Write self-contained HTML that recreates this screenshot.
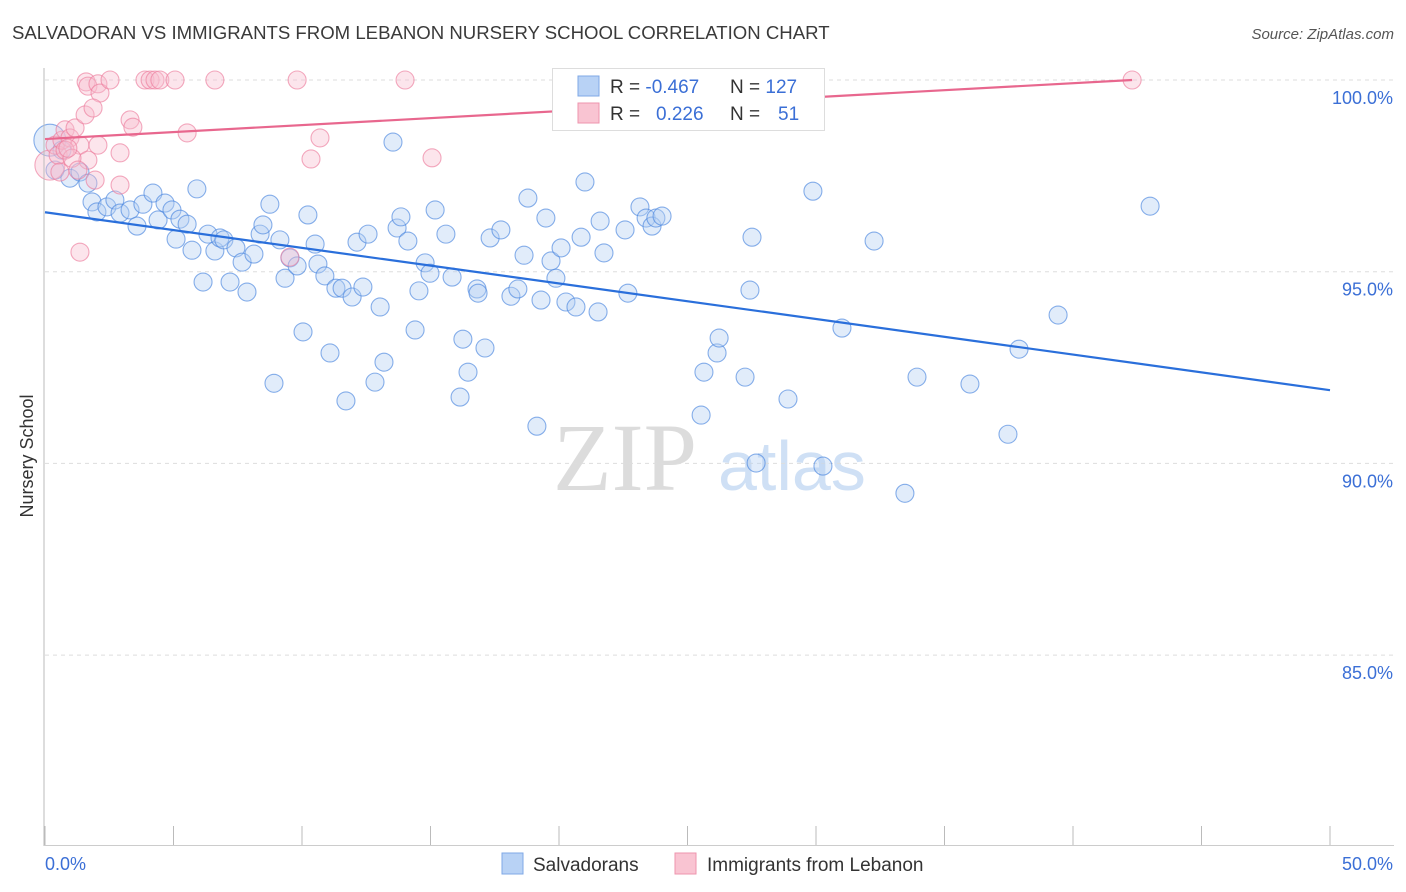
<!DOCTYPE html>
<html><head><meta charset="utf-8"><style>
body{margin:0;background:#fff;font-family:"Liberation Sans",sans-serif;}
#wrap{position:relative;width:1406px;height:892px;overflow:hidden;}
</style></head><body>
<div id="wrap">
<svg id="svg" width="1406" height="892" xmlns="http://www.w3.org/2000/svg">
<text x="12" y="39" font-size="18.6" fill="#3a3a3a">SALVADORAN VS IMMIGRANTS FROM LEBANON NURSERY SCHOOL CORRELATION CHART</text>
<text x="1394" y="39" font-size="15" fill="#555" font-style="italic" text-anchor="end">Source: ZipAtlas.com</text>
<text x="553" y="490" font-family="Liberation Serif,serif" font-size="96" fill="#dcdcdc">ZIP</text>
<text x="718" y="490" font-size="70" fill="#cfe0f5">atlas</text>
<text x="33" y="456" font-size="18" fill="#333" transform="rotate(-90 33 456)" text-anchor="middle">Nursery School</text>
<g id="grid"></g><g id="pts"></g><g id="lines"></g>
<line x1="44" y1="68" x2="44" y2="846" stroke="#bbb"/>
<line x1="44" y1="845.5" x2="1394" y2="845.5" stroke="#ccc"/>
<text x="45" y="870" font-size="18" fill="#3b6fd6">0.0%</text>
<text x="1393" y="870" font-size="18" fill="#3b6fd6" text-anchor="end">50.0%</text>
<g>
<rect x="552.5" y="68.5" width="272" height="62" fill="#fff" stroke="#ddd"/>
<rect x="578" y="76" width="21" height="20" fill="#b8d2f5" stroke="#7fa8e6"/>
<rect x="578" y="103" width="21" height="20" fill="#f9c4d2" stroke="#ee94ae"/>
<text x="610" y="93" font-size="19" fill="#333">R = <tspan fill="#3b6fd6">-0.467</tspan></text>
<text x="730" y="93" font-size="19" fill="#333">N = <tspan fill="#3b6fd6">127</tspan></text>
<text x="610" y="120" font-size="19" fill="#333">R = <tspan fill="#3b6fd6" x="656">0.226</tspan></text>
<text x="730" y="120" font-size="19" fill="#333">N = <tspan fill="#3b6fd6" x="778">51</tspan></text>
</g>
<g>
<rect x="502" y="853" width="21" height="21" fill="#b8d2f5" stroke="#7fa8e6"/>
<text x="533" y="871" font-size="19" fill="#333">Salvadorans</text>
<rect x="675" y="853" width="21" height="21" fill="#f9c4d2" stroke="#ee94ae"/>
<text x="707" y="871" font-size="19" fill="#333">Immigrants from Lebanon</text>
</g>
</svg>
</div>
<script>
const yTicks=[100,95,90,85];
const xTickCount=10;
const blueX=[0.19,0.39,0.97,1.36,1.67,0.66,1.83,2.02,2.41,2.72,2.92,3.31,3.58,3.81,4.20,4.40,4.67,4.94,5.10,5.25,5.53,5.72,5.91,6.15,6.34,6.61,6.81,6.96,7.20,7.43,7.67,7.86,8.13,8.37,8.48,8.75,8.91,9.14,9.34,9.53,9.81,10.04,10.23,10.51,10.62,10.89,11.09,11.32,11.56,11.71,11.95,12.14,12.37,12.57,12.84,13.04,13.19,13.54,13.70,13.85,14.12,14.40,14.55,14.79,14.98,15.18,15.60,15.84,16.15,16.26,16.46,16.81,16.85,17.12,17.32,17.74,18.13,18.40,18.64,18.79,19.14,19.30,19.49,19.69,19.88,20.08,20.27,20.66,20.86,21.01,21.52,21.60,21.75,22.57,22.68,23.15,23.39,23.62,23.77,24.01,24.90,25.53,25.64,26.15,26.23,27.24,27.43,27.51,27.67,28.91,29.88,30.27,31.01,32.26,33.46,33.93,35.99,37.47,37.90,39.42,43.00];
const blueY=[98.43,97.65,97.44,97.60,97.31,98.17,96.82,96.56,96.69,96.87,96.53,96.61,96.19,96.76,97.05,96.35,96.79,96.61,95.85,96.37,96.24,95.56,97.16,94.73,95.98,95.54,95.88,95.83,94.73,95.62,95.25,94.47,95.46,95.98,96.22,96.76,92.09,95.83,94.83,95.36,95.15,93.43,96.48,95.72,95.20,94.89,92.88,94.57,94.57,91.63,94.34,95.77,94.60,95.98,92.12,94.08,92.64,98.38,96.14,96.43,95.80,93.48,94.50,95.23,94.96,96.61,95.98,94.86,91.73,93.24,92.38,94.55,94.44,93.01,95.88,96.09,94.36,94.55,95.43,96.92,90.97,94.26,96.40,95.28,94.83,95.62,94.21,94.08,95.90,97.34,93.95,96.32,95.49,96.09,94.44,96.69,96.40,96.19,96.40,96.45,100.0,91.26,92.38,92.88,93.27,92.25,94.52,95.90,90.01,91.68,97.10,89.93,93.53,95.80,89.22,92.25,92.07,90.76,92.98,93.87,96.71];
const pinkX=[0.19,0.39,0.51,0.66,0.78,0.97,1.17,1.36,1.56,1.67,1.60,1.67,2.06,2.14,2.53,1.87,1.95,2.06,2.92,2.92,3.31,3.42,3.89,4.09,4.28,4.47,5.06,5.53,6.61,9.53,9.81,10.35,10.70,14.01,15.06,1.36,42.30,0.78,1.05,1.28,0.58,0.89];
const pinkY=[97.78,98.30,98.04,98.43,98.70,98.49,98.75,98.30,99.09,97.91,99.95,99.84,99.90,99.66,100,99.27,97.39,98.30,98.10,97.26,98.96,98.77,100,100,100,100,100,98.62,100,95.38,100,97.94,98.49,100,97.97,95.51,100,98.17,97.96,97.65,97.60,98.22];
const blueTrend=[96.55,91.91];
const pinkTrend=[98.46,100.0,42.3];
const NS="http://www.w3.org/2000/svg";
const X0=45,X1=1330,Y100=80,PX5=191.7;
function xs(v){return X0+(v/50)*(X1-X0);}
function ys(v){return Y100+(100-v)/5*PX5;}
function mk(t,a){const e=document.createElementNS(NS,t);for(const k in a)e.setAttribute(k,a[k]);return e;}
const grid=document.getElementById('grid');
yTicks.forEach((t,i)=>{
 const l=mk('line',{x1:45,x2:1394,y1:ys(t),y2:ys(t),stroke:'#ddd','stroke-dasharray':'4,4'});
 
 
 grid.appendChild(l);
 const tx=mk('text',{x:1393,y:ys(t)+24,'font-size':18,fill:'#3b6fd6','text-anchor':'end'});
 tx.textContent=t.toFixed(1)+'%';
 
 
 grid.appendChild(tx);
});
for(let i=0;i<=xTickCount;i++){
 const x=xs(i*50/xTickCount);
 const l=mk('line',{x1:x,x2:x,y1:826,y2:846,stroke:'#bbb'});
 
 
 grid.appendChild(l);
}
const pts=document.getElementById('pts');
function draw(X,Y,fill,stroke,name,bigR){
 X.forEach((x,i)=>{
  const c=mk('circle',{cx:xs(x),cy:ys(Y[i]),r:i===0?bigR:9,fill:fill,'fill-opacity':0.4,stroke:stroke,'stroke-opacity':0.65,'stroke-width':1.1});
  
  
  pts.appendChild(c);
 });
}
draw(blueX,blueY,'#b3cff3','#4a86de','salvadoran-point',16);
draw(pinkX,pinkY,'#f8bfcf','#ec7c9d','lebanon-point',15);
const lines=document.getElementById('lines');
const bl=mk('line',{x1:xs(0),y1:ys(blueTrend[0]),x2:xs(50),y2:ys(blueTrend[1]),stroke:'#2a6fdb','stroke-width':2.2});


lines.appendChild(bl);
const pl=mk('line',{x1:xs(0),y1:ys(pinkTrend[0]),x2:xs(pinkTrend[2]),y2:ys(pinkTrend[1]),stroke:'#e8678e','stroke-width':2.2});


lines.appendChild(pl);
</script>
</body></html>
